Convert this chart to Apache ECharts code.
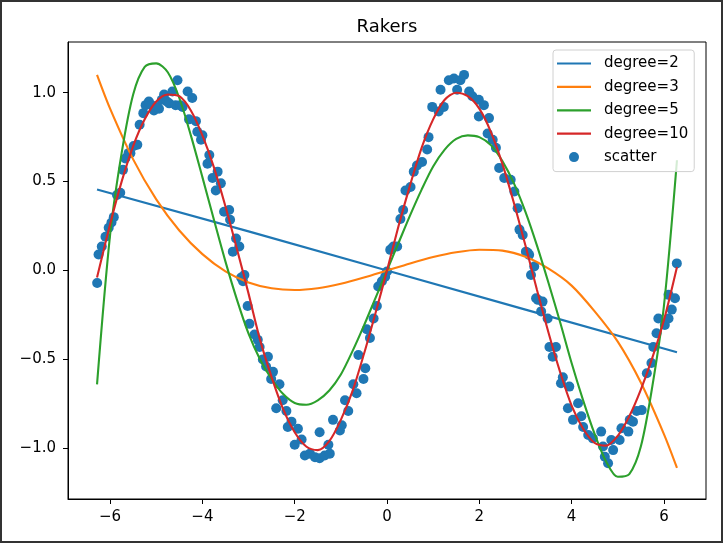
<!DOCTYPE html>
<html><head><meta charset="utf-8">
<script src="https://cdn.jsdelivr.net/npm/echarts@6/dist/echarts.min.js"></script>
<style>html,body{margin:0;padding:0;background:#fff}#c{width:724px;height:545px}</style>
</head><body><div id="c"></div>
<script>
const xTicks = [-6, -4, -2, 0, 2, 4, 6];
const yTicks = [-1, -0.5, 0, 0.5, 1];

const deg2X = [-6.283, -3, 0, 3, 6.283];
const deg2Y = [0.455, 0.22, 0.0, -0.22, -0.46];

const deg3X = [-6.283,-6,-5.5,-5,-4.5,-4,-3.5,-3,-2.5,-2,-1.5,-1,-0.5,0,0.5,1,1.5,2,2.5,3,3.5,4,4.5,5,5.5,6,6.283];
const deg3Y = [1.10,0.91,0.625,0.40,0.225,0.092,-0.005,-0.067,-0.10,-0.11,-0.10,-0.075,-0.04,0.0,0.04,0.076,0.103,0.117,0.112,0.077,0.01,-0.085,-0.23,-0.40,-0.63,-0.92,-1.11];

const lineX = [-6.283,-6,-5.75,-5.5,-5.25,-5,-4.75,-4.5,-4.25,-4,-3.75,-3.5,-3.25,-3,-2.75,-2.5,-2.25,-2,-1.75,-1.5,-1.25,-1,-0.75,-0.5,-0.25,0,0.25,0.5,0.75,1,1.25,1.5,1.75,2,2.25,2.5,2.75,3,3.25,3.5,3.75,4,4.25,4.5,4.75,5,5.25,5.5,5.75,6,6.283];
const deg5Y = [-0.64,0.20,0.66,0.99,1.145,1.165,1.115,0.97,0.76,0.525,0.285,0.05,-0.165,-0.355,-0.50,-0.61,-0.695,-0.745,-0.755,-0.73,-0.675,-0.585,-0.455,-0.31,-0.155,0.0,0.155,0.31,0.455,0.585,0.68,0.74,0.76,0.75,0.705,0.615,0.49,0.33,0.14,-0.07,-0.29,-0.52,-0.73,-0.92,-1.075,-1.16,-1.145,-0.99,-0.65,-0.20,0.62];
const deg10Y = [-0.04,0.26,0.50,0.70,0.85,0.95,0.99,0.98,0.90,0.76,0.58,0.36,0.12,-0.13,-0.39,-0.60,-0.78,-0.91,-0.99,-1.01,-0.96,-0.84,-0.68,-0.47,-0.24,0.0,0.25,0.48,0.69,0.85,0.96,1.0,0.98,0.91,0.78,0.60,0.38,0.14,-0.11,-0.35,-0.57,-0.76,-0.89,-0.97,-0.985,-0.93,-0.82,-0.67,-0.49,-0.28,0.02];

const scatterPoints = [
[-6.28,-0.07],[-6.25,0.09],[-6.18,0.135],[-6.10,0.19],[-6.03,0.24],[-5.97,0.27],[-5.92,0.30],[-5.85,0.425],[-5.78,0.437],[-5.72,0.566],[-5.67,0.63],[-5.60,0.66],[-5.56,0.66],[-5.49,0.70],[-5.41,0.707],[-5.36,0.82],[-5.28,0.885],[-5.23,0.93],[-5.16,0.95],[-5.10,0.93],[-5.05,0.90],[-4.98,0.92],[-4.94,0.91],[-4.88,0.96],[-4.83,0.99],[-4.77,0.95],[-4.72,0.94],[-4.65,1.007],[-4.58,0.93],[-4.54,1.07],[-4.48,0.93],[-4.43,0.92],[-4.32,1.007],[-4.29,0.85],[-4.22,0.97],[-4.14,0.84],[-4.11,0.78],[-4.03,0.735],[-4.00,0.76],[-3.89,0.60],[-3.85,0.65],[-3.78,0.52],[-3.71,0.45],[-3.67,0.556],[-3.60,0.49],[-3.53,0.33],[-3.42,0.34],[-3.40,0.285],[-3.34,0.106],[-3.27,0.18],[-3.20,0.135],[-3.16,-0.04],[-3.12,-0.06],[-3.09,-0.025],[-3.02,-0.20],[-2.98,-0.30],[-2.87,-0.36],[-2.80,-0.39],[-2.76,-0.43],[-2.69,-0.50],[-2.62,-0.54],[-2.58,-0.485],[-2.51,-0.61],[-2.47,-0.57],[-2.40,-0.775],[-2.33,-0.64],[-2.26,-0.73],[-2.18,-0.79],[-2.15,-0.88],[-2.07,-0.85],[-2.00,-0.98],[-1.93,-0.89],[-1.85,-0.95],[-1.78,-1.04],[-1.67,-1.03],[-1.56,-1.05],[-1.46,-1.056],[-1.46,-0.91],[-1.35,-1.04],[-1.27,-0.98],[-1.24,-1.03],[-1.17,-0.84],[-1.02,-0.90],[-0.98,-0.87],[-0.91,-0.73],[-0.84,-0.79],[-0.73,-0.64],[-0.66,-0.69],[-0.62,-0.475],[-0.51,-0.61],[-0.47,-0.55],[-0.44,-0.33],[-0.37,-0.38],[-0.29,-0.27],[-0.22,-0.20],[-0.19,-0.09],[-0.11,-0.06],[-0.04,-0.035],[0.00,-0.006],[0.07,0.116],[0.11,0.125],[0.14,0.135],[0.22,0.135],[0.29,0.29],[0.35,0.34],[0.40,0.45],[0.51,0.47],[0.58,0.556],[0.65,0.59],[0.76,0.61],[0.87,0.68],[0.90,0.75],[0.98,0.92],[1.12,0.894],[1.16,1.016],[1.23,0.92],[1.34,1.07],[1.45,1.08],[1.52,1.016],[1.59,1.07],[1.67,1.10],[1.78,1.007],[1.85,0.98],[1.99,0.96],[1.99,0.866],[2.10,0.93],[2.18,0.77],[2.21,0.857],[2.29,0.735],[2.36,0.69],[2.43,0.576],[2.54,0.52],[2.68,0.51],[2.76,0.444],[2.83,0.35],[2.87,0.23],[2.94,0.20],[3.01,0.106],[3.05,0.10],[3.08,0.088],[3.12,-0.025],[3.19,0.022],[3.23,-0.156],[3.27,-0.165],[3.34,-0.23],[3.37,-0.175],[3.48,-0.27],[3.52,-0.43],[3.59,-0.485],[3.66,-0.43],[3.77,-0.634],[3.81,-0.60],[3.92,-0.775],[3.95,-0.653],[4.03,-0.84],[4.14,-0.747],[4.21,-0.82],[4.25,-0.88],[4.36,-0.925],[4.46,-0.944],[4.64,-0.906],[4.68,-0.99],[4.72,-1.047],[4.79,-1.084],[4.86,-0.953],[4.90,-1.01],[5.04,-0.953],[5.08,-0.887],[5.23,-0.906],[5.26,-0.84],[5.33,-0.85],[5.41,-0.79],[5.52,-0.785],[5.63,-0.578],[5.73,-0.52],[5.77,-0.43],[5.84,-0.353],[5.88,-0.27],[6.02,-0.306],[6.10,-0.27],[6.10,-0.137],[6.17,-0.22],[6.24,-0.156],[6.28,0.04]
];

const seriesNames = ['degree=2', 'degree=3', 'degree=5', 'degree=10', 'scatter'];

const zip = (xs, ys) => xs.map((x, i) => [x, ys[i]]);
const minus = s => String(s).replace('-', '\u2212');
const FONT = 'DejaVu Sans';
const LINE_ICON = 'path://M0,0L34,0L34,2.2L0,2.2Z';

const lineSeries = (name, data, color, smooth) => ({
  name, type: 'line', data, smooth, symbol: 'none', showSymbol: false,
  lineStyle: { width: 2.1, color }, itemStyle: { color }, z: 3, silent: true
});

const chart = echarts.init(document.getElementById('c'), null, { renderer: 'canvas' });
chart.setOption({
  animation: false,
  textStyle: { fontFamily: FONT },
  title: {
    text: 'Rakers', left: 387, top: 18, textAlign: 'center', padding: 0,
    textStyle: { fontFamily: FONT, fontSize: 18, fontWeight: 'normal', color: '#000' }
  },
  grid: { left: 68, right: 18, top: 42, bottom: 46, show: true, borderColor: '#000', borderWidth: 1 },
  xAxis: {
    type: 'value', min: -6.912, max: 6.912,
    axisLine: { show: true, onZero: false, lineStyle: { color: '#000', width: 1 } },
    splitLine: { show: false },
    axisTick: { show: true, length: 5, customValues: xTicks, lineStyle: { color: '#000' } },
    axisLabel: { customValues: xTicks, formatter: v => minus(v), fontFamily: FONT, fontSize: 15, color: '#000', margin: 11 }
  },
  yAxis: {
    type: 'value', min: -1.285, max: 1.285,
    axisLine: { show: true, onZero: false, lineStyle: { color: '#000', width: 1 } },
    splitLine: { show: false },
    axisTick: { show: true, length: 5, customValues: yTicks, lineStyle: { color: '#000' } },
    axisLabel: { customValues: yTicks, formatter: v => minus(Number(v).toFixed(1)), fontFamily: FONT, fontSize: 15, color: '#000', margin: 12 }
  },
  legend: {
    orient: 'vertical', left: 553, top: 50,
    padding: [5, 6, 6, 4], itemGap: 6.4, itemWidth: 34, itemHeight: 10,
    backgroundColor: 'rgba(255,255,255,0.8)', borderColor: '#d0d0d0', borderWidth: 1, borderRadius: 3,
    textStyle: { fontFamily: FONT, fontSize: 15, color: '#000', lineHeight: 17, padding: [0, 0, 0, 8] },
    data: seriesNames.map(n => n === 'scatter' ? { name: n, icon: 'circle' } : { name: n, icon: LINE_ICON })
  },
  graphic: [{
    type: 'rect', shape: { x: 1, y: 1, width: 721, height: 541 },
    style: { fill: 'transparent', stroke: '#333', lineWidth: 2 }, z: 100, silent: true
  }],
  series: [
    lineSeries(seriesNames[0], zip(deg2X, deg2Y), '#1f77b4', false),
    lineSeries(seriesNames[1], zip(deg3X, deg3Y), '#ff7f0e', 0.3),
    lineSeries(seriesNames[2], zip(lineX, deg5Y), '#2ca02c', 0.3),
    lineSeries(seriesNames[3], zip(lineX, deg10Y), '#d62728', 0.3),
    { name: seriesNames[4], type: 'scatter', data: scatterPoints, symbol: 'circle', symbolSize: 10,
      itemStyle: { color: '#1f77b4', opacity: 1 }, z: 2, silent: true }
  ]
});
</script></body></html>
